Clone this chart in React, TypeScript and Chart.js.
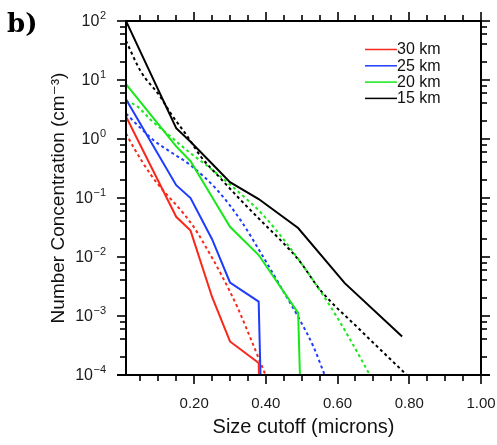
import React, { useEffect, useRef } from 'react';
import { Chart, registerables } from 'chart.js';

Chart.register(...registerables);

// Size cutoffs (microns) of the counter channels
const sizeCutoffs = [0.01, 0.15, 0.19, 0.25, 0.3, 0.38, 0.49, 0.62, 0.78];

// An empty channel on a log axis: the trace falls straight off the bottom
const EMPTY = 1e-30;

// Measured number concentrations (cm^-3) above each cutoff
const measured30km = [2.4, 0.048, 0.028, 0.0021, 0.00037, 0.00016, EMPTY];
const measured25km = [4.7, 0.165, 0.1, 0.02, 0.0037, 0.00175, EMPTY];
const measured20km = [8.5, 0.75, 0.42, 0.104, 0.0325, 0.0108, 0.00113, EMPTY];
const measured15km = [100, 1.52, 0.9, 0.38, 0.185, 0.096, 0.031, 0.0036, 0.00045];

// Fitted size distributions (dotted)
const fit30kmSizes = [0.01, 0.033, 0.08, 0.117, 0.163, 0.2, 0.228, 0.274, 0.32, 0.367, 0.399];
const fit30kmConc = [1.24, 0.69, 0.244, 0.127, 0.062, 0.0316, 0.0166, 0.00525, 0.00144, 0.0003, 0.0001];

const fit25kmSizes = [0.01, 0.052, 0.089, 0.135, 0.191, 0.265, 0.33, 0.385, 0.441, 0.496, 0.533, 0.564];
const fit25kmConc = [2.7, 1.5, 0.93, 0.6, 0.355, 0.135, 0.0417, 0.012, 0.00316, 0.00083, 0.0003, 0.0001];

const fit20kmSizes = [0.01, 0.038, 0.08, 0.135, 0.186, 0.246, 0.33, 0.385, 0.44, 0.49, 0.58, 0.635, 0.69];
const fit20kmConc = [4.3, 3.7, 2.08, 1.09, 0.6, 0.316, 0.117, 0.0575, 0.0234, 0.0093, 0.00145, 0.0004, 0.0001];

const fit15kmSizes = [0.01, 0.052, 0.103, 0.135, 0.182, 0.219, 0.274, 0.33, 0.385, 0.441, 0.492, 0.552, 0.663, 0.793];
const fit15kmConc = [46, 13.7, 5.5, 2.7, 1.09, 0.5, 0.214, 0.092, 0.042, 0.0193, 0.00885, 0.00275, 0.00058, 0.0001];

const seriesLabels = ['30 km', '25 km', '20 km', '15 km'];
const seriesColors = ['#f8281a', '#1e3cff', '#18e818', '#000000'];

// Axis ticks
const xTickValues = [0.2, 0.4, 0.6, 0.8, 1.0];
const xMinorTickValues = [0.05, 0.1, 0.15, 0.25, 0.3, 0.35, 0.45, 0.5, 0.55, 0.65, 0.7, 0.75, 0.85, 0.9, 0.95];
const yTickValues = [1e-4, 1e-3, 1e-2, 1e-1, 1, 10, 100];
const yTickExponents = ['-4', '-3', '-2', '-1', '0', '1', '2'];
const yMinorMultipliers = [2, 4, 6, 8];

const SANS = "'Liberation Sans', 'DejaVu Sans', Arial, sans-serif";
const MAJOR_TICK = 9;
const MINOR_TICK = 6;
const Y_LABEL_GAP = 20;

const pairs = (xs: number[], ys: number[]) => ys.map((v, i) => ({ x: xs[i], y: v }));

// Keep the plot box fixed: no extra room for overhanging tick labels
const noOverhang = (s: any) => {
  s.paddingLeft = 0;
  s.paddingRight = 0;
  s.paddingTop = 0;
  s.paddingBottom = 0;
};

// Frame, outward ticks on all four sides, power-of-ten labels, legend and panel tag
const framePlugin = {
  id: 'frameAndLegend',
  afterDraw(chart: any) {
    const { ctx, chartArea: a, scales } = chart;
    const xs = scales.x;
    const ys = scales.y;
    const L = Math.round(a.left);
    const R = Math.round(a.right);
    const T = Math.round(a.top);
    const B = Math.round(a.bottom);
    ctx.save();
    ctx.setLineDash([]);

    // ticks as thin filled bars, snapped to whole pixels
    ctx.fillStyle = '#333333';
    const xTick = (v: number, len: number) => {
      const px = Math.round(xs.getPixelForValue(v));
      ctx.fillRect(px - 1, B, 2, len);
      ctx.fillRect(px - 1, T - len, 2, len);
    };
    const yTick = (v: number, len: number) => {
      const py = Math.round(ys.getPixelForValue(v));
      ctx.fillRect(L - len, py - 1, len, 2);
      ctx.fillRect(R, py - 1, len, 2);
    };
    xTickValues.forEach((v) => xTick(v, MAJOR_TICK));
    xMinorTickValues.forEach((v) => xTick(v, MINOR_TICK));
    yTickValues.forEach((v) => yTick(v, MAJOR_TICK));
    yTickValues.slice(0, -1).forEach((d) => yMinorMultipliers.forEach((m) => yTick(d * m, MINOR_TICK)));

    // plot frame
    ctx.fillStyle = '#000000';
    ctx.fillRect(L - 1, T - 1, R - L + 2, 2);
    ctx.fillRect(L - 1, T - 1, 2, B - T + 2);
    ctx.fillRect(R - 1, T - 1, 2, B - T + 2);
    ctx.fillRect(L - MAJOR_TICK, B - 1, R - L + 2 * MAJOR_TICK, 2);

    // y tick labels: 10 with a raised exponent
    ctx.fillStyle = '#1a1a1a';
    ctx.textAlign = 'left';
    ctx.textBaseline = 'middle';
    yTickValues.forEach((v, i) => {
      const py = ys.getPixelForValue(v);
      const exp = yTickExponents[i].replace('-', '\u2212');
      ctx.font = `11px ${SANS}`;
      const expW = ctx.measureText(exp).width;
      ctx.font = `16px ${SANS}`;
      const baseW = ctx.measureText('10').width;
      const right = L - Y_LABEL_GAP;
      ctx.fillText('10', right - expW - baseW - 0.5, py + 1);
      ctx.font = `11px ${SANS}`;
      ctx.fillText(exp, right - expW, py - 5.5);
    });

    // legend
    ctx.font = `16px ${SANS}`;
    ctx.textBaseline = 'middle';
    ctx.textAlign = 'left';
    seriesLabels.forEach((label, i) => {
      const yy = 49.5 + i * 16.3;
      ctx.fillStyle = seriesColors[i];
      ctx.fillRect(365, yy - 0.75, 32, 1.5);
      ctx.fillStyle = '#111';
      ctx.fillText(label, 397, yy + 0.5);
    });

    // panel tag
    ctx.font = `bold 26px 'DejaVu Serif', 'Liberation Serif', serif`;
    ctx.textBaseline = 'alphabetic';
    ctx.fillStyle = '#000';
    ctx.fillText('b)', 7, 31.5);
    ctx.restore();
  },
};

export default function App() {
  const canvasRef = useRef<HTMLCanvasElement>(null);

  useEffect(() => {
    const canvas = canvasRef.current;
    if (!canvas) return;

    const solid = (values: number[], i: number) => ({
      label: seriesLabels[i],
      data: pairs(sizeCutoffs, values),
      borderColor: seriesColors[i],
      borderWidth: 2,
      pointRadius: 0,
      fill: false,
      tension: 0,
    });
    const dotted = (sizes: number[], values: number[], i: number) => ({
      label: seriesLabels[i] + ' fit',
      data: pairs(sizes, values),
      borderColor: seriesColors[i],
      borderWidth: 2,
      borderDash: [3, 3],
      pointRadius: 0,
      fill: false,
      cubicInterpolationMode: 'monotone' as const,
    });

    const chart = new Chart(canvas, {
      type: 'line',
      data: {
        datasets: [
          solid(measured30km, 0),
          solid(measured25km, 1),
          solid(measured20km, 2),
          solid(measured15km, 3),
          dotted(fit30kmSizes, fit30kmConc, 0),
          dotted(fit25kmSizes, fit25kmConc, 1),
          dotted(fit20kmSizes, fit20kmConc, 2),
          dotted(fit15kmSizes, fit15kmConc, 3),
        ] as any,
      },
      options: {
        responsive: false,
        animation: false,
        layout: { padding: { left: 0, right: 16, top: 21, bottom: 0 } },
        plugins: { legend: { display: false }, tooltip: { enabled: false } },
        scales: {
          x: {
            type: 'linear',
            min: 0.01,
            max: 1.0,
            grid: { display: false },
            border: { display: false },
            afterBuildTicks: (s: any) => {
              s.ticks = xTickValues.map((v) => ({ value: v }));
            },
            afterFit: (s: any) => {
              s.height = 70;
              noOverhang(s);
            },
            ticks: {
              autoSkip: false,
              maxRotation: 0,
              padding: 12,
              color: '#1a1a1a',
              font: { family: SANS, size: 15 },
              callback: (v: any) => Number(v).toFixed(2),
            },
            title: {
              display: true,
              text: 'Size cutoff (microns)',
              color: '#111',
              font: { family: SANS, size: 20 },
              padding: { top: 0, bottom: 6 },
            },
          },
          y: {
            type: 'logarithmic',
            min: 1e-4,
            max: 100,
            grid: { display: false },
            border: { display: false },
            afterBuildTicks: (s: any) => {
              s.ticks = yTickValues.map((v) => ({ value: v }));
            },
            afterFit: (s: any) => {
              s.width = 126;
              noOverhang(s);
            },
            ticks: {
              display: false,
            },
            title: {
              display: true,
              text: 'Number Concentration (cm⁻³)',
              color: '#111',
              font: { family: SANS, size: 19 },
              padding: { top: 47, bottom: 0 },
            },
          },
        },
      },
      plugins: [framePlugin],
    });

    return () => chart.destroy();
  }, []);

  return (
    <div style={{ position: 'absolute', left: 0, top: 0, width: 497, height: 445, background: '#fff' }}>
      <canvas ref={canvasRef} width={497} height={445} style={{ display: 'block' }} />
    </div>
  );
}
